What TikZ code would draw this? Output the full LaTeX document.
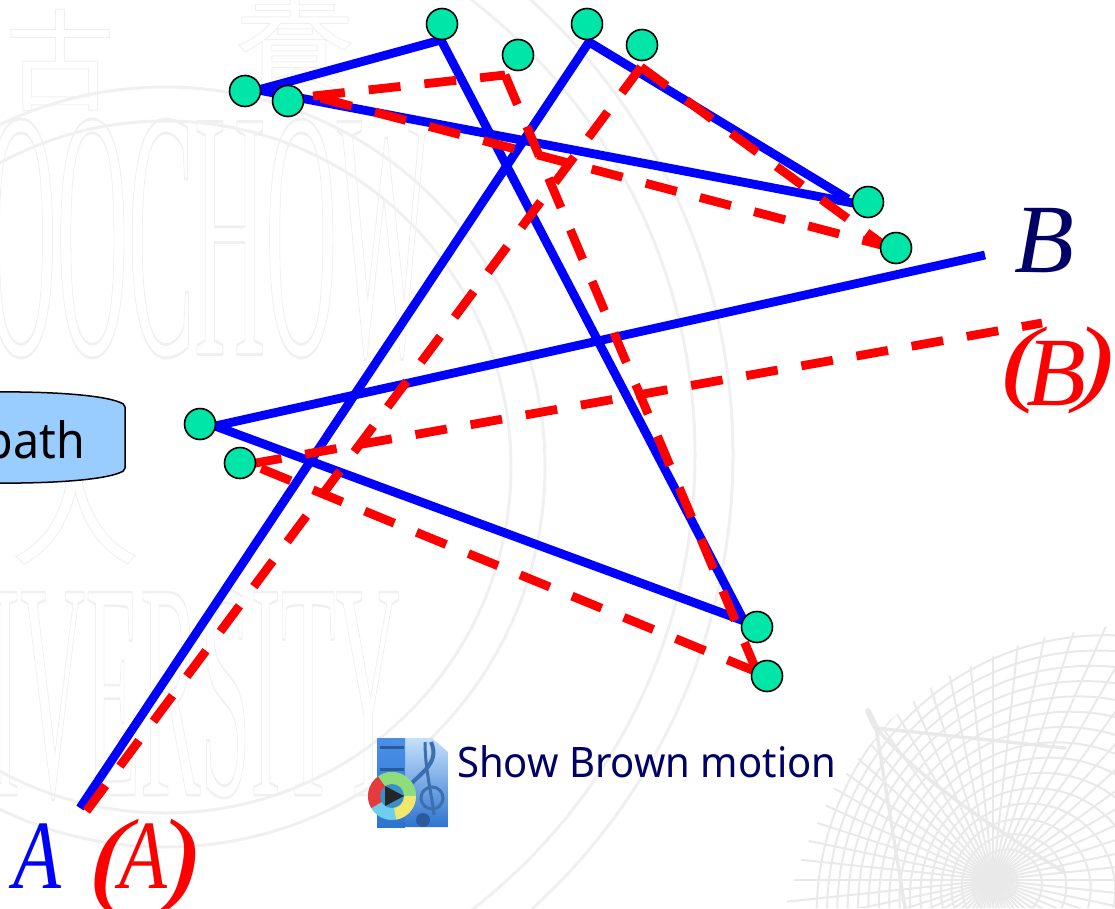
\documentclass[tikz,border=0pt]{standalone}
\usepackage{fontspec}
\usepackage{graphicx}
\setmainfont{Liberation Serif}
\newfontfamily\labelfont{Noto Sans}
\newfontfamily\cjkfont{Noto Sans CJK TC}
\usetikzlibrary{shadings}
\definecolor{pathblue}{HTML}{0000FF}
\definecolor{pathred}{HTML}{FF0000}
\definecolor{dotgreen}{HTML}{00E6A8}
\definecolor{navytext}{HTML}{000066}
\definecolor{boxblue}{HTML}{99CCFF}
\definecolor{sealgrey}{HTML}{F0F0F0}
\definecolor{webgrey}{HTML}{E9E9E9}
\definecolor{clefblue}{HTML}{3B6FB0}
\definecolor{pagetop}{HTML}{C5E0FA}
\definecolor{pagebot}{HTML}{2E74CF}
\definecolor{filmblue}{HTML}{4A90E8}
\definecolor{filmdark}{HTML}{2A5A9A}
\definecolor{discred}{HTML}{E83A3A}
\definecolor{discgreen}{HTML}{8FDC7A}
\definecolor{discyellow}{HTML}{F0E86A}
\definecolor{disccyan}{HTML}{6FCDEE}
\definecolor{dischole}{HTML}{3A8FC8}
\newcommand{\outlinetext}[2]{\special{pdf:code q 1 Tr #1 w 0.94 G 1 g}#2\special{pdf:code Q}}
\tikzset{
  bluepath/.style={draw=pathblue,line width=8.8pt,miter limit=10},
  redpath/.style={draw=pathred,line width=8.8pt,dash pattern=on 32pt off 24pt},
  dot/.style={circle,draw=black,line width=1.6pt,fill=dotgreen,minimum size=31pt,inner sep=0pt},
  bigitalic/.style={inner sep=0pt,font=\itshape\fontsize{98}{98}\selectfont},
  parenB/.style={inner sep=0pt,font=\itshape\fontsize{96}{96}\selectfont},
  parenA/.style={inner sep=0pt,font=\itshape\fontsize{110}{110}\selectfont},
  sealring/.style={draw=sealgrey,line width=3pt},
  webline/.style={draw=webgrey,line width=2pt},
  webbold/.style={draw=webgrey,line width=3.4pt,line cap=round},
  sealtext/.style={inner sep=0pt,anchor=south west}
}
\begin{document}
\begin{tikzpicture}[x=1pt,y=-1pt]
\useasboundingbox (0,0) rectangle (1115,908);
\clip (0,0) rectangle (1115,908);
% seal watermark
\draw[sealring] (165,467) circle[radius=380];
\draw[sealring] (165,467) circle[radius=346];
\draw[sealring] (120,455) circle[radius=613];
\draw[sealring] (120,455) circle[radius=575];
\node[sealtext] (wmA) at (-70,360) {\outlinetext{0.08}{\resizebox{500pt}{235pt}{SOOCHOW}}};
\node[sealtext] (wmB) at (-140,800) {\outlinetext{0.08}{\resizebox{540pt}{205pt}{UNIVERSITY}}};
\node[inner sep=0pt] (wmC) at (60,60) {\outlinetext{1}{\cjkfont\fontsize{110}{110}\selectfont 古}};
\node[inner sep=0pt] (wmD) at (295,35) {\outlinetext{1}{\cjkfont\fontsize{120}{120}\selectfont 養}};
\node[inner sep=0pt] (wmE) at (75,505) {\outlinetext{1}{\cjkfont\fontsize{130}{130}\selectfont 人}};
% web watermark
\begin{scope}
\clip (785,908) -- (803,853) -- (833,790) -- (890,720) -- (940,680) -- (1030,640) -- (1115,625) -- (1115,908) -- cycle;
\coordinate (pole) at (993,880);
\foreach \a in {0,6,...,354}{\draw[webline] (pole) -- ++(\a:420);}
\foreach \t in {0.06,0.12,...,1.02}{
  \draw[webline] ({993+117*\t},{880+35*\t}) circle[radius={290*\t}];
}
\end{scope}
\coordinate (tip) at (876,728);
\coordinate (tipEnd) at (868,711);
\coordinate (webA) at (1065,748);
\coordinate (webB) at (1065,873);
\coordinate (webC) at (905,908);
\draw[webbold] (tip) -- (webA);
\draw[webbold] (tip) .. controls (930,790) and (1000,830) .. (webB);
\draw[webbold] (tip) -- (webC);
\draw[draw=webgrey,line width=6pt,line cap=round] (tip) -- (tipEnd);
% vertices
\coordinate (bA) at (80,808);
\coordinate (b1) at (589,42);
\coordinate (b2) at (848,199);
\coordinate (b3) at (858,204);
\coordinate (b4) at (258,90);
\coordinate (b5) at (441,40);
\coordinate (b6) at (744,621);
\coordinate (b7) at (215,426);
\coordinate (bB) at (985,255);
\coordinate (rA) at (85,813);
\coordinate (r1) at (641,67);
\coordinate (r2) at (885,246);
\coordinate (r3) at (313,96);
\coordinate (r4) at (505,75);
\coordinate (r5) at (757,672);
\coordinate (r6) at (250,464);
\coordinate (rB) at (1042,323);
% blue path
\draw[bluepath] (bA) -- (b1) -- (b2);
\draw[bluepath] (b3) -- (b4) -- (b5) -- (b6) -- (b7) -- (bB);
% red path
\draw[redpath] (r1) -- (rA);
\draw[redpath] (r1) -- (r2);
\draw[redpath,dash phase=48pt] (r3) -- (r2);
\draw[redpath] (r3) -- (r4);
\draw[redpath] (r4) -- (r5);
\draw[redpath] (r5) -- (r6);
\draw[redpath] (r6) -- (rB);
% dots
\node[dot] (n1) at (442,24) {};
\node[dot] (n2) at (518,55) {};
\node[dot] (n3) at (587,24) {};
\node[dot] (n4) at (642,45) {};
\node[dot] (n5) at (245,91) {};
\node[dot] (n6) at (288,101) {};
\node[dot] (n7) at (868,202) {};
\node[dot] (n8) at (896,248) {};
\node[dot] (n9) at (200,424) {};
\node[dot] (n10) at (240,463) {};
\node[dot] (n11) at (757,627) {};
\node[dot] (n12) at (767,676) {};
% path box
\draw[draw=black,line width=1.5pt,fill=boxblue,rounded corners=2pt]
  (-20,392) .. controls (60,391) and (110,396) .. (125,405) -- (125,470)
  .. controls (110,479) and (60,484) .. (-20,483) -- cycle;
\node[anchor=base east,inner sep=0pt,text=black,font=\labelfont\fontsize{50}{50}\selectfont] (boxlabel) at (85,458) {\scalebox{0.93}[1]{path}};
% labels
\node[anchor=base west,bigitalic,text=pathblue] (labA) at (13,888) {\scalebox{0.8}[1]{A}};
\node[anchor=base west,bigitalic,text=pathred] (labAr) at (119,888) {\scalebox{0.8}[1]{A}};
\node[anchor=base west,parenA,text=pathred] (labAl) at (90,895) {\scalebox{1.15}[1]{(}};
\node[anchor=base west,parenA,text=pathred] (labArr) at (157,895) {\scalebox{1.15}[1]{)}};
\node[anchor=base west,bigitalic,text=navytext] (labB) at (1014,272) {B};
\node[anchor=base west,bigitalic,text=pathred] (labBr) at (1026,405) {B};
\node[anchor=base west,parenB,text=pathred] (labBl) at (1001,393) {\scalebox{1.25}[1]{(}};
\node[anchor=base west,parenB,text=pathred] (labBrr) at (1074,393) {\scalebox{1.25}[1]{)}};
\node[anchor=base west,inner sep=0pt,text=navytext,font=\labelfont\fontsize{42}{42}\selectfont] (show) at (457,777) {\scalebox{0.953}[1]{Show Brown motion}};
% media icon
\shade[top color=pagetop,bottom color=pagebot] (405,738) -- (432,738) -- (448,752) -- (448,827) -- (405,827) -- cycle;
\shade[top color=filmblue,bottom color=pagebot] (377,738) rectangle (405,827);
\fill[filmdark] (380,746) rectangle (404,749);
\fill[filmdark] (380,768) rectangle (404,771);
\draw[clefblue,line width=4pt] (410,785) .. controls (422,772) and (440,762) .. (431,742);
\draw[clefblue,line width=3pt] (425,742) .. controls (425,770) and (432,795) .. (434,815);
\draw[clefblue,line width=3pt] (432,798) circle[radius=11];
\fill[filmdark] (423,820) circle[radius=7];
\coordinate (disc) at (392,796);
\fill[disccyan] (disc) circle[radius=24];
\fill[discred] (disc) -- ++(150:24) arc[start angle=150,end angle=235,radius=24] -- cycle;
\fill[discgreen] (disc) -- ++(235:24) arc[start angle=235,end angle=360,radius=24] -- cycle;
\fill[discyellow] (disc) -- ++(0:24) arc[start angle=0,end angle=80,radius=24] -- cycle;
\fill[dischole] (disc) circle[radius=12];
\fill[black!85] (385,786) -- (404,796) -- (385,806) -- cycle;
\end{tikzpicture}
\end{document}
